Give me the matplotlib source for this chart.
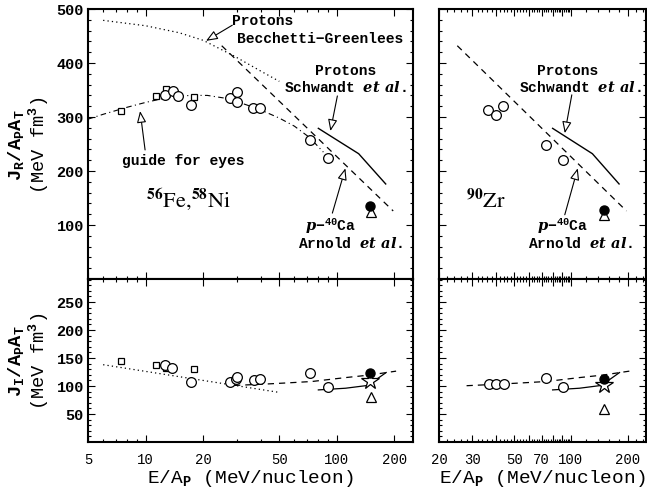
import numpy as np
import matplotlib
matplotlib.use("Agg")
import matplotlib.pyplot as plt
from matplotlib.ticker import NullFormatter

plt.rcParams['font.family'] = 'Liberation Mono'
plt.rcParams['font.weight'] = 'bold'
plt.rcParams['mathtext.fontset'] = 'custom'
plt.rcParams['mathtext.rm'] = 'Liberation Mono:bold'
plt.rcParams['mathtext.bf'] = 'Liberation Mono:bold'
plt.rcParams['mathtext.it'] = 'DejaVu Serif:italic:bold'

# ---- 56Fe, 58Ni : real part J_R / A_P A_T
fe_sq_E = [7.4, 11.3, 12.8, 18.0]
fe_sq_JR = [312, 339, 351, 337]
fe_ci_E = [12.7, 13.9, 14.7, 17.3, 27.7, 30.2, 30.0, 36.4, 39.8, 72.6, 90.0]
fe_ci_JR = [341, 349, 338, 323, 335, 346, 328, 317, 317, 258, 225]
fe_fill_E, fe_fill_JR = [149], [135]
fe_tri_E, fe_tri_JR = [150], [124]

# ---- 56Fe, 58Ni : imaginary part J_I / A_P A_T
fe_sq_JI_E = [7.4, 11.3, 12.8, 18.0]
fe_sq_JI = [145, 137, 133, 130]
fe_ci_JI_E = [12.6, 13.8, 17.3, 27.7, 29.6, 30.2, 36.7, 39.8, 72.6, 89.7]
fe_ci_JI = [138, 133, 108, 108, 113, 116, 110, 112, 124, 99]
fe_fill_JI_E, fe_fill_JI = [149], [124]
fe_star_JI_E, fe_star_JI = [149], [109]
fe_tri_JI_E, fe_tri_JI = [150], [80]

# ---- 90Zr
zr_ci_E = [36.5, 40.1, 43.8, 73.4, 91.0]
zr_ci_JR = [313, 304, 320, 249, 220]
zr_fill_E, zr_fill_JR = [149], [127]
zr_tri_E, zr_tri_JR = [150], [118]
zr_ci_JI_E = [36.9, 40.3, 44.0, 73.8, 91.0]
zr_ci_JI = [104, 104, 104, 115, 99]
zr_fill_JI_E, zr_fill_JI = [149], [112]
zr_star_JI_E, zr_star_JI = [149], [101]
zr_tri_JI_E, zr_tri_JI = [150], [59]

# ---- curves
bg_E = [6, 10, 15, 20, 29, 40, 50]            # protons, Becchetti-Greenlees
bg_JR = [479, 469, 456, 442, 413, 385, 366]
bg_JI_E = [6, 49]
bg_JI = [138, 89]
guide_E = [5, 6, 8, 10, 13, 17, 21, 27, 34, 40, 50, 60, 72, 85]
guide_JR = [296, 305, 318, 327, 336, 340, 340, 334, 322, 313, 298, 283, 262, 235]
arnold_E = [25, 197]                           # p-40Ca, Arnold et al.
arnold_JR = [432, 126]
arnold_JI_E = [29, 40, 55, 74, 111, 148, 204]
arnold_JI = [101, 103, 105.5, 108, 115, 119.5, 126.5]
arnold_JI_E_zr = [28, 40, 55, 74, 111, 148, 204]
arnold_JI_zr = [100.5, 103, 105.5, 108, 115, 119.5, 126.5]
schw_E = [80, 130, 180]                        # protons, Schwandt et al.
schw_JR = [279, 232, 176]
schw_JI_E = [80, 111, 145, 181]
schw_JI = [93, 96, 101, 124]

W, H = 647, 489
fig = plt.figure(figsize=(W / 100, H / 100), dpi=100)
axTL = fig.add_axes([88 / W, 1 - 280 / H, 325 / W, 270 / H])
axBL = fig.add_axes([88 / W, 1 - 443 / H, 325 / W, 163 / H])
axTR = fig.add_axes([439 / W, 1 - 280 / H, 207 / W, 270 / H])
axBR = fig.add_axes([439 / W, 1 - 443 / H, 207 / W, 163 / H])

DOT = (0, (1, 2.5))
DASH = (0, (5, 4))
DASHDOT = (0, (5, 3, 1, 3))
open_ci = dict(ls='none', marker='o', ms=7, mfc='white', mec='k', mew=0.9, zorder=5)
open_sq = dict(ls='none', marker='s', ms=5, mfc='white', mec='k', mew=0.9, zorder=5)
fill_ci = dict(ls='none', marker='o', ms=6.5, mfc='k', mec='k', zorder=7)
open_tri = dict(ls='none', marker='^', ms=7.5, mfc='white', mec='k', mew=0.9, zorder=6)
open_star = dict(ls='none', marker='*', ms=13, mfc='white', mec='k', mew=0.9, zorder=6)
arrow = dict(arrowstyle='-|>,head_length=0.7,head_width=0.28', fc='white', ec='k', lw=0.8,
             shrinkA=0, shrinkB=0)
txt = dict(fontsize=10.5, fontweight='bold')

# top left
ax = axTL
ax.plot(bg_E, bg_JR, 'k', ls=DOT, lw=0.9)
ax.plot(guide_E, guide_JR, 'k', ls=DASHDOT, lw=0.8)
ax.plot(arnold_E, arnold_JR, 'k', ls=DASH, lw=0.9)
ax.plot(schw_E, schw_JR, 'k-', lw=1.0)
ax.plot(fe_sq_E, fe_sq_JR, **open_sq)
ax.plot(fe_ci_E, fe_ci_JR, **open_ci)
ax.plot(fe_tri_E, fe_tri_JR, **open_tri)
ax.plot(fe_fill_E, fe_fill_JR, **fill_ci)
ax.text(28.4, 480, 'Protons', ha='left', va='center', **txt)
ax.text(30.1, 446, 'Becchetti\u2212Greenlees', ha='left', va='center', **txt)
ax.annotate('', xy=(20.7, 441), xytext=(28.4, 470), arrowprops=arrow)
ax.text(110.8, 387, 'Protons', ha='center', va='center', **txt)
ax.text(110.8, 357, r'Schwandt $et\ al.$', ha='center', va='center', **txt)
ax.annotate('', xy=(92.5, 274), xytext=(100.6, 339), arrowprops=arrow)
ax.text(15.7, 220, 'guide for eyes', ha='center', va='center', **txt)
ax.annotate('', xy=(9.36, 311), xytext=(9.94, 239), arrowprops=arrow)
ax.text(16.7, 150, r'$^{56}$Fe,$^{58}$Ni', ha='center', va='center', fontsize=16,
        family='STIXGeneral', fontweight='normal', math_fontfamily='stix')
ax.text(92.5, 100, r'$p$$-$$^{40}$Ca', ha='center', va='center', **txt)
ax.text(117.7, 67, r'Arnold $et\ al.$', ha='center', va='center', **txt)
ax.annotate('', xy=(110.8, 205), xytext=(94.7, 122), arrowprops=arrow)

# bottom left
ax = axBL
ax.plot(bg_JI_E, bg_JI, 'k', ls=DOT, lw=0.9)
ax.plot(arnold_JI_E, arnold_JI, 'k', ls=DASH, lw=0.9)
ax.plot(schw_JI_E, schw_JI, 'k-', lw=0.9)
ax.plot(fe_sq_JI_E, fe_sq_JI, **open_sq)
ax.plot(fe_ci_JI_E, fe_ci_JI, **open_ci)
ax.plot(fe_star_JI_E, fe_star_JI, **open_star)
ax.plot(fe_tri_JI_E, fe_tri_JI, **open_tri)
ax.plot(fe_fill_JI_E, fe_fill_JI, **fill_ci)

# top right
ax = axTR
ax.plot(arnold_E, arnold_JR, 'k', ls=DASH, lw=0.9)
ax.plot(schw_E, schw_JR, 'k-', lw=1.0)
ax.plot(zr_ci_E, zr_ci_JR, **open_ci)
ax.plot(zr_tri_E, zr_tri_JR, **open_tri)
ax.plot(zr_fill_E, zr_fill_JR, **fill_ci)
ax.text(96.3, 387, 'Protons', ha='center', va='center', **txt)
ax.text(112.8, 357, r'Schwandt $et\ al.$', ha='center', va='center', **txt)
ax.annotate('', xy=(92.8, 270), xytext=(101.1, 341), arrowprops=arrow)
ax.text(35.5, 146, r'$^{90}$Zr', ha='center', va='center', fontsize=16,
        family='STIXGeneral', fontweight='normal', math_fontfamily='stix')
ax.text(90.6, 100, r'$p$$-$$^{40}$Ca', ha='center', va='center', **txt)
ax.text(112.8, 67, r'Arnold $et\ al.$', ha='center', va='center', **txt)
ax.annotate('', xy=(108.7, 205), xytext=(92.8, 119), arrowprops=arrow)

# bottom right
ax = axBR
ax.plot(arnold_JI_E_zr, arnold_JI_zr, 'k', ls=DASH, lw=0.9)
ax.plot(schw_JI_E, schw_JI, 'k-', lw=0.9)
ax.plot(zr_ci_JI_E, zr_ci_JI, **open_ci)
ax.plot(zr_star_JI_E, zr_star_JI, **open_star)
ax.plot(zr_tri_JI_E, zr_tri_JI, **open_tri)
ax.plot(zr_fill_JI_E, zr_fill_JI, **fill_ci)

# axes styling
left_major = [5, 10, 20, 50, 100, 200]
left_minor = [6, 7, 8, 9, 30, 40, 60, 70, 80, 90]
right_major = [20, 30, 40, 50, 60, 70, 80, 90, 100, 200]
right_labels = ['20', '30', '', '50', '', '70', '', '', '100', '200']
right_minor = [v for v in range(22, 100, 2) if v % 10] + [120, 140, 160, 180, 220, 240]

for ax in (axTL, axBL, axTR, axBR):
    ax.set_xscale('log')
    for s in ax.spines.values():
        s.set_linewidth(1.5)
    ax.tick_params(which='both', direction='in', top=True, right=True, width=0.8)
    ax.tick_params(which='major', length=5)
    ax.tick_params(which='minor', length=2.5)
    ax.tick_params(axis='y', labelsize=11, pad=3)
    ax.tick_params(axis='x', labelsize=10, pad=7)

for ax in (axTL, axBL):
    ax.set_xlim(5, 250)
    ax.set_xticks(left_major, [str(v) for v in left_major])
    ax.set_xticks(left_minor, minor=True)
for ax in (axTR, axBR):
    ax.set_xlim(20, 250)
    ax.set_xticks(right_major, right_labels)
    ax.set_xticks(right_minor, minor=True)
for ax in (axTL, axBL, axTR, axBR):
    ax.xaxis.set_minor_formatter(NullFormatter())

for ax in (axTL, axTR):
    ax.set_ylim(0, 500)
    ax.set_yticks([100, 200, 300, 400, 500])
    ax.set_yticks(np.arange(20, 500, 20), minor=True)
    ax.tick_params(axis='x', labelbottom=False)
for ax in (axBL, axBR):
    ax.set_ylim(0, 291)
    ax.set_yticks([50, 100, 150, 200, 250])
    ax.set_yticks(np.arange(10, 291, 10), minor=True)
    for lab in ax.get_xticklabels():
        lab.set_fontweight('normal')
    ax.set_xlabel(r'E/A$_\mathrm{P}$ (MeV/nucleon)', fontsize=14, labelpad=1)
for ax in (axTR, axBR):
    ax.tick_params(axis='y', labelleft=False)

axTL.set_ylabel(r'$\mathrm{J_R/A_PA_T}$' + '\n' + r'(MeV fm$^\mathrm{3}$)', fontsize=13.5,
                labelpad=4, linespacing=1.0)
axBL.set_ylabel(r'$\mathrm{J_I/A_PA_T}$' + '\n' + r'(MeV fm$^\mathrm{3}$)', fontsize=13.5,
                labelpad=4, linespacing=1.0)

fig.savefig('out.png', dpi=100)
